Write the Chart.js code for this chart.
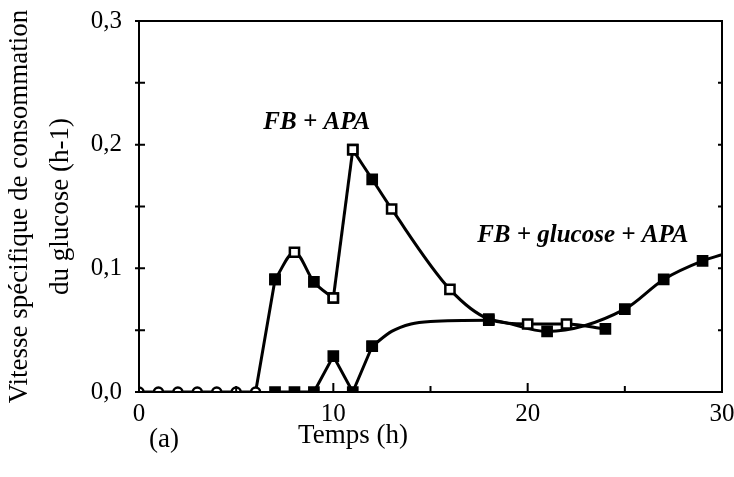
<!DOCTYPE html>
<html>
<head>
<meta charset="utf-8">
<script src="https://cdn.jsdelivr.net/npm/chart.js@4/dist/chart.umd.min.js"></script>
<style>
  html, body { margin: 0; padding: 0; background: #fff; }
  #wrap { width: 734px; height: 477px; position: relative; }
</style>
</head>
<body>
<div id="wrap"><canvas id="c" width="734" height="477"></canvas></div>
<script>
// ---- data ----
const timeA = [0, 1, 2, 3, 4, 5, 6, 7, 8, 9, 10, 11, 12, 13, 16, 18, 20, 22, 24];
const rateA = [0, 0, 0, 0, 0, 0, 0, 0.091, 0.113, 0.089, 0.076, 0.196, 0.172, 0.148, 0.083, 0.059, 0.055, 0.055, 0.051];
const filledA = [false, false, false, false, false, false, false, true, false, true, false, false, true, false, false, true, false, false, true];
const roundA = [true, true, true, true, true, true, true, false, false, false, false, false, false, false, false, false, false, false, false];

const timeB = [7, 8, 9, 10, 11, 12, 13, 14, 15, 18, 21, 25, 27, 29, 30];
const rateB = [0, 0, 0, 0.029, 0, 0.037, 0.049, 0.055, 0.057, 0.058, 0.049, 0.067, 0.091, 0.106, 0.111];
const markerB = [true, true, true, true, true, true, false, false, false, true, true, true, true, true, false];

const xTickValues = [0, 10, 20, 30];
const yTickValues = [0, 0.1, 0.2, 0.3];
const xTitle = 'Temps (h)';
const yTitle = ['Vitesse spécifique de consommation', 'du glucose (h-1)'];
const panelLabel = '(a)';
const seriesLabels = [
  { text: 'FB + APA', x: 6.4, y: 0.2125 },
  { text: 'FB + glucose + APA', x: 17.4, y: 0.121 }
];

// which index ranges of each curve are drawn straight vs. smoothed
const piecesA = [[0, 7, 'line'], [7, 10, 'smooth'], [10, 11, 'line'], [11, 18, 'smooth']];
const piecesB = [[0, 5, 'line'], [5, 14, 'smooth']];

const SERIF = '"Liberation Serif", "DejaVu Serif", serif';

function buildPieces(times, rates, pieces, fillFn, radiusFn, roundFn) {
  return pieces.map(([s, e, mode]) => ({
    data: times.slice(s, e + 1).map((t, i) => ({ x: t, y: rates[s + i] })),
    borderColor: '#000',
    borderWidth: 3,
    tension: 0,
    cubicInterpolationMode: mode === 'smooth' ? 'monotone' : 'default',
    pointStyle: c => roundFn(s + c.dataIndex) ? 'circle' : 'rect',
    pointRadius: c => roundFn(s + c.dataIndex) ? 4.5 : radiusFn(s + c.dataIndex),
    pointBorderWidth: 2.5,
    pointBorderColor: '#000',
    pointBackgroundColor: c => fillFn(s + c.dataIndex) ? '#000' : '#fff'
  }));
}

const decor = {
  id: 'decor',
  afterDatasetsDraw(chart) {
    const { ctx, chartArea: a, scales: { x, y } } = chart;
    ctx.save();
    ctx.strokeStyle = '#000';
    ctx.lineWidth = 2;
    ctx.strokeRect(a.left, a.top, a.right - a.left, a.bottom - a.top);
    for (let t = 0; t <= 30; t += 5) {
      const px = x.getPixelForValue(t);
      const len = (t % 10 === 0) ? 9 : 6;
      ctx.beginPath();
      ctx.moveTo(px, a.bottom); ctx.lineTo(px, a.bottom - len);
      ctx.stroke();
    }
    for (let i = 0; i <= 6; i++) {
      const py = y.getPixelForValue(i * 0.05);
      ctx.beginPath();
      ctx.moveTo(a.left - 4, py); ctx.lineTo(a.left + 6, py);
      ctx.moveTo(a.right, py); ctx.lineTo(a.right - 4, py);
      ctx.stroke();
    }
    ctx.fillStyle = '#000';
    ctx.font = 'italic bold 25px ' + SERIF;
    ctx.textAlign = 'left';
    ctx.textBaseline = 'alphabetic';
    seriesLabels.forEach(l => {
      ctx.fillText(l.text, x.getPixelForValue(l.x), y.getPixelForValue(l.y));
    });
    ctx.font = '27px ' + SERIF;
    ctx.textBaseline = 'middle';
    ctx.textAlign = 'center';
    ctx.fillText(xTitle, 353, 436);
    ctx.fillText(panelLabel, 164, 440);
    ctx.restore();
  }
};

new Chart(document.getElementById('c'), {
  type: 'line',
  data: {
    datasets: [
      ...buildPieces(timeA, rateA, piecesA, i => filledA[i], () => 6.5, i => roundA[i]),
      ...buildPieces(timeB, rateB, piecesB, () => true, i => markerB[i] ? 6.5 : 0, () => false)
    ]
  },
  options: {
    responsive: false,
    animation: false,
    events: [],
    layout: { padding: { top: 21, right: 12, left: 0, bottom: 0 } },
    plugins: { legend: { display: false }, tooltip: { enabled: false } },
    scales: {
      x: {
        type: 'linear', min: 0, max: 30,
        afterBuildTicks: s => { s.ticks = xTickValues.map(v => ({ value: v })); },
        ticks: { color: '#000', font: { family: SERIF, size: 25 }, padding: 7, maxRotation: 0 },
        grid: { display: false, drawTicks: false },
        border: { display: true, color: '#000', width: 2 },
        afterFit: s => { s.height = 85; s.paddingLeft = 0; s.paddingRight = 0; }
      },
      y: {
        type: 'linear', min: 0, max: 0.3,
        afterBuildTicks: s => { s.ticks = yTickValues.map(v => ({ value: v })); },
        ticks: {
          color: '#000', font: { family: SERIF, size: 25 }, padding: 17,
          callback: v => v.toFixed(1).replace('.', ',')
        },
        grid: { display: false, drawTicks: false },
        border: { display: true, color: '#000', width: 2 },
        title: {
          display: true, text: yTitle, color: '#000',
          font: { family: SERIF, size: 27, lineHeight: 1.5 }, padding: { top: 0, bottom: 4 }
        },
        afterFit: s => { s.width = 139; s.paddingTop = 0; s.paddingBottom = 0; }
      }
    }
  },
  plugins: [decor]
});
</script>
</body>
</html>
